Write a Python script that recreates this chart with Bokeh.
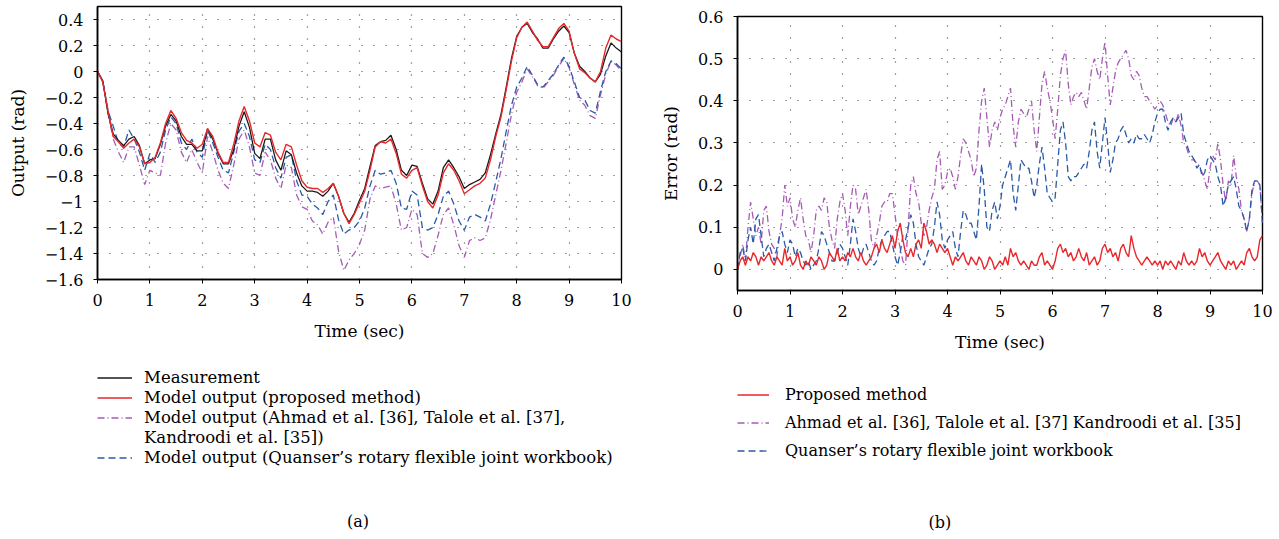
from bokeh.plotting import figure
from bokeh.layouts import row, column
from bokeh.models import Legend, LegendItem, Label, FixedTicker, ColumnDataSource, Range1d
from bokeh.embed import file_html
from bokeh.resources import INLINE

# ---------------- data ----------------
# panel (a): outputs, sampled every 0.1 s
time_a = [round(i * 0.1, 1) for i in range(101)]
measurement = [
    0.00, -0.07, -0.32, -0.48, -0.53, -0.57, -0.52, -0.50, -0.57, -0.71,
    -0.68, -0.67, -0.56, -0.42, -0.33, -0.38, -0.50, -0.56, -0.56, -0.61,
    -0.61, -0.44, -0.52, -0.63, -0.71, -0.71, -0.60, -0.42, -0.31, -0.43,
    -0.63, -0.67, -0.52, -0.52, -0.68, -0.76, -0.61, -0.64, -0.78, -0.88,
    -0.92, -0.92, -0.93, -0.96, -0.92, -0.86, -0.96, -1.09, -1.16, -1.09,
    -0.99, -0.90, -0.73, -0.57, -0.54, -0.53, -0.49, -0.60, -0.76, -0.80,
    -0.72, -0.73, -0.86, -0.98, -1.02, -0.92, -0.74, -0.68, -0.74, -0.81,
    -0.90, -0.87, -0.85, -0.83, -0.78, -0.64, -0.48, -0.33, -0.12, 0.10,
    0.27, 0.34, 0.37, 0.30, 0.25, 0.18, 0.18, 0.25, 0.31, 0.35,
    0.30, 0.14, 0.04, 0.00, -0.05, -0.08, -0.02, 0.12, 0.22, 0.18,
    0.15]
model_proposed = [
    0.00, -0.08, -0.30, -0.50, -0.54, -0.59, -0.55, -0.52, -0.58, -0.71,
    -0.70, -0.66, -0.55, -0.40, -0.30, -0.36, -0.47, -0.53, -0.55, -0.59,
    -0.56, -0.44, -0.50, -0.62, -0.70, -0.70, -0.56, -0.38, -0.27, -0.38,
    -0.55, -0.58, -0.47, -0.49, -0.62, -0.68, -0.56, -0.58, -0.72, -0.84,
    -0.89, -0.90, -0.90, -0.93, -0.90, -0.86, -0.96, -1.09, -1.17, -1.10,
    -1.01, -0.92, -0.76, -0.58, -0.54, -0.55, -0.52, -0.63, -0.79, -0.82,
    -0.76, -0.74, -0.88, -1.00, -1.05, -0.95, -0.78, -0.71, -0.76, -0.84,
    -0.94, -0.91, -0.88, -0.86, -0.82, -0.68, -0.50, -0.35, -0.14, 0.08,
    0.26, 0.34, 0.38, 0.31, 0.24, 0.19, 0.19, 0.26, 0.33, 0.37,
    0.31, 0.14, 0.02, -0.01, -0.05, -0.08, 0.00, 0.18, 0.28, 0.25,
    0.23]
model_ahmad = [
    0.00, -0.08, -0.32, -0.52, -0.62, -0.70, -0.58, -0.58, -0.72, -0.87,
    -0.76, -0.78, -0.80, -0.55, -0.40, -0.45, -0.62, -0.70, -0.60, -0.70,
    -0.78, -0.50, -0.62, -0.76, -0.86, -0.90, -0.72, -0.52, -0.45, -0.58,
    -0.78, -0.80, -0.62, -0.68, -0.82, -0.90, -0.72, -0.74, -0.95, -1.04,
    -1.06, -1.15, -1.18, -1.25, -1.16, -1.12, -1.38, -1.53, -1.45, -1.40,
    -1.33, -1.22, -0.98, -0.88, -0.90, -0.89, -0.88, -1.02, -1.22, -1.20,
    -1.06, -1.10, -1.40, -1.43, -1.40, -1.26, -1.10, -1.05, -1.18, -1.34,
    -1.43, -1.30, -1.28, -1.30, -1.28, -1.14, -0.95, -0.76, -0.55, -0.33,
    -0.16, -0.08, 0.02, -0.04, -0.11, -0.13, -0.08, -0.03, 0.04, 0.10,
    0.03, -0.10, -0.22, -0.26, -0.34, -0.36, -0.18, -0.02, 0.08, 0.05,
    0.00]
model_quanser = [
    0.00, -0.07, -0.30, -0.42, -0.55, -0.58, -0.45, -0.52, -0.62, -0.76,
    -0.63, -0.70, -0.62, -0.45, -0.35, -0.40, -0.55, -0.60, -0.52, -0.62,
    -0.66, -0.45, -0.55, -0.66, -0.76, -0.78, -0.62, -0.46, -0.40, -0.50,
    -0.68, -0.70, -0.56, -0.60, -0.74, -0.82, -0.66, -0.64, -0.84, -0.95,
    -0.96, -1.02, -1.05, -1.10, -1.00, -0.95, -1.14, -1.25, -1.22, -1.20,
    -1.15, -1.05, -0.88, -0.76, -0.79, -0.78, -0.76, -0.86, -1.05, -1.06,
    -0.92, -0.95, -1.20, -1.22, -1.20, -1.10, -0.96, -0.92, -1.02, -1.15,
    -1.22, -1.12, -1.10, -1.12, -1.15, -1.02, -0.85, -0.67, -0.46, -0.26,
    -0.12, -0.05, 0.04, -0.03, -0.10, -0.12, -0.07, -0.02, 0.05, 0.11,
    0.04, -0.08, -0.20, -0.22, -0.30, -0.32, -0.15, 0.00, 0.08, 0.06,
    0.02]

# panel (b): errors, sampled every 0.05 s
time_b = [round(i * 0.05, 2) for i in range(201)]
err_proposed = [
    0.00, 0.02, 0.03, 0.01, 0.03, 0.02, 0.04, 0.03, 0.01, 0.03, 0.02, 0.03, 0.04, 0.02, 0.01, 0.03, 0.02, 0.01, 0.05, 0.02,
    0.03, 0.01, 0.02, 0.04, 0.01, 0.00, 0.02, 0.01, 0.03, 0.02, 0.01, 0.03, 0.02, 0.00, 0.01, 0.04, 0.03, 0.02, 0.05, 0.02,
    0.03, 0.02, 0.04, 0.03, 0.05, 0.03, 0.02, 0.04, 0.02, 0.01, 0.02, 0.03, 0.05, 0.06, 0.04, 0.07, 0.05, 0.04, 0.06, 0.08,
    0.05, 0.09, 0.11, 0.07, 0.04, 0.03, 0.05, 0.03, 0.06, 0.07, 0.05, 0.11, 0.09, 0.06, 0.07, 0.06, 0.04, 0.06, 0.05, 0.04,
    0.05, 0.03, 0.01, 0.03, 0.02, 0.03, 0.04, 0.02, 0.01, 0.03, 0.02, 0.01, 0.03, 0.02, 0.00, 0.01, 0.03, 0.02, 0.00, 0.01,
    0.02, 0.01, 0.03, 0.01, 0.05, 0.03, 0.04, 0.02, 0.01, 0.02, 0.01, 0.00, 0.02, 0.01, 0.01, 0.03, 0.04, 0.01, 0.02, 0.01,
    0.00, 0.02, 0.05, 0.06, 0.04, 0.05, 0.03, 0.04, 0.02, 0.03, 0.05, 0.03, 0.02, 0.04, 0.01, 0.02, 0.03, 0.01, 0.02, 0.05,
    0.06, 0.04, 0.05, 0.03, 0.04, 0.02, 0.05, 0.06, 0.04, 0.03, 0.08, 0.05, 0.03, 0.02, 0.01, 0.02, 0.03, 0.02, 0.01, 0.02,
    0.01, 0.02, 0.00, 0.02, 0.01, 0.02, 0.01, 0.00, 0.02, 0.01, 0.04, 0.02, 0.01, 0.02, 0.01, 0.02, 0.05, 0.03, 0.04, 0.02,
    0.01, 0.02, 0.03, 0.04, 0.02, 0.01, 0.00, 0.02, 0.01, 0.02, 0.00, 0.01, 0.02, 0.01, 0.04, 0.05, 0.03, 0.02, 0.03, 0.07,
    0.08]
err_ahmad = [
    0.00, 0.03, 0.06, 0.02, 0.10, 0.16, 0.12, 0.08, 0.10, 0.06, 0.14, 0.15, 0.09, 0.06, 0.05, 0.03, 0.08, 0.12, 0.20, 0.15,
    0.17, 0.12, 0.10, 0.14, 0.17, 0.12, 0.08, 0.07, 0.04, 0.08, 0.14, 0.15, 0.14, 0.17, 0.16, 0.10, 0.07, 0.05, 0.12, 0.16,
    0.18, 0.14, 0.08, 0.15, 0.20, 0.19, 0.13, 0.15, 0.17, 0.19, 0.14, 0.07, 0.05, 0.08, 0.11, 0.15, 0.16, 0.16, 0.18, 0.18,
    0.13, 0.08, 0.05, 0.02, 0.01, 0.10, 0.20, 0.22, 0.18, 0.16, 0.11, 0.08, 0.10, 0.14, 0.17, 0.19, 0.26, 0.28, 0.19, 0.20,
    0.23, 0.24, 0.22, 0.19, 0.22, 0.27, 0.31, 0.30, 0.28, 0.26, 0.22, 0.24, 0.33, 0.40, 0.43, 0.36, 0.29, 0.33, 0.35, 0.33,
    0.36, 0.38, 0.39, 0.41, 0.43, 0.34, 0.29, 0.35, 0.38, 0.37, 0.36, 0.38, 0.40, 0.33, 0.28, 0.36, 0.44, 0.47, 0.43, 0.40,
    0.36, 0.31, 0.38, 0.46, 0.50, 0.52, 0.44, 0.39, 0.41, 0.42, 0.41, 0.42, 0.40, 0.38, 0.43, 0.48, 0.50, 0.47, 0.45, 0.50,
    0.54, 0.46, 0.39, 0.43, 0.47, 0.49, 0.50, 0.51, 0.52, 0.50, 0.46, 0.45, 0.47, 0.46, 0.43, 0.41, 0.41, 0.40, 0.39, 0.38,
    0.39, 0.40, 0.39, 0.37, 0.35, 0.34, 0.36, 0.35, 0.37, 0.34, 0.30, 0.29, 0.27, 0.26, 0.26, 0.25, 0.24, 0.23, 0.21, 0.19,
    0.24, 0.27, 0.26, 0.30, 0.26, 0.20, 0.16, 0.21, 0.20, 0.27, 0.22, 0.19, 0.14, 0.12, 0.09, 0.12, 0.18, 0.21, 0.21, 0.20,
    0.11]
err_quanser = [
    0.00, 0.04, 0.05, 0.02, 0.07, 0.10, 0.06, 0.12, 0.13, 0.08, 0.03, 0.05, 0.06, 0.04, 0.02, 0.05, 0.08, 0.09, 0.06, 0.04,
    0.07, 0.06, 0.03, 0.05, 0.04, 0.02, 0.01, 0.02, 0.00, 0.01, 0.02, 0.05, 0.09, 0.08, 0.06, 0.04, 0.02, 0.02, 0.04, 0.06,
    0.05, 0.03, 0.01, 0.06, 0.12, 0.09, 0.05, 0.03, 0.05, 0.06, 0.04, 0.02, 0.01, 0.02, 0.05, 0.07, 0.08, 0.09, 0.09, 0.06,
    0.03, 0.01, 0.04, 0.08, 0.07, 0.10, 0.13, 0.11, 0.06, 0.03, 0.02, 0.01, 0.03, 0.05, 0.06, 0.10, 0.16, 0.13, 0.07, 0.05,
    0.07, 0.08, 0.09, 0.05, 0.03, 0.09, 0.14, 0.13, 0.11, 0.11, 0.09, 0.07, 0.15, 0.25, 0.19, 0.10, 0.09, 0.14, 0.16, 0.12,
    0.15, 0.20, 0.22, 0.24, 0.26, 0.18, 0.14, 0.20, 0.26, 0.25, 0.24, 0.24, 0.21, 0.17, 0.20, 0.25, 0.29, 0.24, 0.18, 0.17,
    0.16, 0.17, 0.25, 0.33, 0.35, 0.30, 0.22, 0.21, 0.22, 0.22, 0.23, 0.24, 0.25, 0.24, 0.28, 0.33, 0.35, 0.28, 0.24, 0.30,
    0.36, 0.30, 0.23, 0.26, 0.30, 0.31, 0.33, 0.34, 0.32, 0.30, 0.31, 0.30, 0.32, 0.31, 0.31, 0.32, 0.31, 0.30, 0.32, 0.35,
    0.37, 0.38, 0.38, 0.35, 0.33, 0.35, 0.36, 0.35, 0.36, 0.37, 0.32, 0.30, 0.28, 0.27, 0.26, 0.24, 0.25, 0.22, 0.23, 0.26,
    0.27, 0.26, 0.25, 0.22, 0.20, 0.15, 0.17, 0.20, 0.21, 0.22, 0.19, 0.15, 0.14, 0.12, 0.09, 0.12, 0.19, 0.21, 0.21, 0.20,
    0.11]

x_ticks = [0, 1, 2, 3, 4, 5, 6, 7, 8, 9, 10]
x_labels = ["0", "1", "2", "3", "4", "5", "6", "7", "8", "9", "10"]
y_ticks_a = [-1.6, -1.4, -1.2, -1.0, -0.8, -0.6, -0.4, -0.2, 0.0, 0.2, 0.4]
y_labels_a = ["\u22121.6", "\u22121.4", "\u22121.2", "\u22121", "\u22120.8", "\u22120.6",
              "\u22120.4", "\u22120.2", "0", "0.2", "0.4"]
y_ticks_b = [0.0, 0.1, 0.2, 0.3, 0.4, 0.5, 0.6]
y_labels_b = ["0", "0.1", "0.2", "0.3", "0.4", "0.5", "0.6"]

legend_a = ["Measurement", "Model output (proposed method)",
            "Model output (Ahmad et al. [36], Talole et al. [37],",
            "Kandroodi et al. [35])",
            "Model output (Quanser\u2019s rotary flexible joint workbook)"]
legend_b = ["Proposed method",
            "Ahmad et al. [36], Talole et al. [37] Kandroodi et al. [35]",
            "Quanser\u2019s rotary flexible joint workbook"]
caption_a = "(a)"
caption_b = "(b)"

# ---------------- style ----------------
FONT = "DejaVu Serif"
BLACK = "#1a1a1a"
RED = "#e8282c"
PURPLE = "#a65cb4"
BLUE = "#2b5aa8"
DASH_PURPLE = "7 3 1 3"
DASH_BLUE = "7 4"
NAN = float("nan")


def style(p, yticks, ylabels, ylabel):
    p.xaxis.ticker = FixedTicker(ticks=x_ticks)
    p.yaxis.ticker = FixedTicker(ticks=yticks)
    p.xaxis.major_label_overrides = {t: l for t, l in zip(x_ticks, x_labels)}
    p.yaxis.major_label_overrides = {t: l for t, l in zip(yticks, ylabels)}
    p.xgrid.ticker = FixedTicker(ticks=x_ticks)
    p.ygrid.ticker = FixedTicker(ticks=yticks)
    p.grid.grid_line_color = "#444444"
    p.grid.grid_line_dash = "1 11"
    p.grid.grid_line_width = 1.2
    p.axis.axis_line_color = "black"
    p.axis.axis_line_width = 1.6
    p.axis.major_tick_in = 0
    p.axis.major_tick_out = 4
    p.axis.major_tick_line_color = "black"
    p.axis.minor_tick_line_color = None
    p.axis.major_label_text_font = FONT
    p.axis.major_label_text_font_size = "16px"
    p.axis.major_label_text_color = "black"
    p.axis.major_label_standoff = 10
    p.axis.axis_label_text_font = FONT
    p.axis.axis_label_text_font_size = "17px"
    p.axis.axis_label_text_font_style = "normal"
    p.axis.axis_label_text_color = "black"
    p.xaxis.axis_label = "Time (sec)"
    p.yaxis.axis_label = ylabel
    p.xaxis.axis_label_standoff = 12
    p.yaxis.axis_label_standoff = 14
    p.outline_line_color = "black"
    p.outline_line_width = 1.4
    p.background_fill_color = "white"
    p.border_fill_color = "white"


def legend_panel(width, height, top):
    # blank canvas that carries the legend and the caption
    q = figure(width=width, height=height, min_border_left=97, min_border_right=0,
               min_border_top=top, min_border_bottom=0,
               x_range=Range1d(0, width - 97), y_range=Range1d(0, height - top),
               x_axis_type=None, y_axis_type=None, output_backend="svg", toolbar_location=None)
    q.grid.visible = False
    q.outline_line_color = None
    q.background_fill_color = "white"
    q.border_fill_color = "white"
    return q


def proxy(q, **kw):
    # a legend-only line: undefined points, so nothing is drawn in the canvas
    return q.line(x=[NAN, NAN], y=[NAN, NAN], **kw)


def make_legend(items, padding, glyph_width, label_standoff, spacing, size, label_width):
    return Legend(items=items, location="top_left", orientation="vertical", margin=0, padding=padding,
                  border_line_color=None, background_fill_alpha=0,
                  glyph_width=glyph_width, glyph_height=19, label_height=19, label_width=label_width,
                  label_standoff=label_standoff, spacing=spacing,
                  label_text_font=FONT, label_text_font_size=size, label_text_color="black")


# ---------------- panel (a) ----------------
pa = figure(frame_width=524, frame_height=273, min_border_left=97, min_border_right=19,
            min_border_top=6, min_border_bottom=71, x_range=(0, 10), y_range=(-1.6, 0.5),
            output_backend="svg", toolbar_location=None)
style(pa, y_ticks_a, y_labels_a, "Output (rad)")

src_a = ColumnDataSource(dict(t=time_a, meas=measurement, prop=model_proposed,
                              ahmad=model_ahmad, quanser=model_quanser))
pa.line("t", "ahmad", source=src_a, line_color=PURPLE, line_width=1.3, line_dash=DASH_PURPLE)
pa.line("t", "quanser", source=src_a, line_color=BLUE, line_width=1.3, line_dash=DASH_BLUE)
pa.line("t", "meas", source=src_a, line_color=BLACK, line_width=1.3)
pa.line("t", "prop", source=src_a, line_color=RED, line_width=1.4)

la = legend_panel(640, 189, 18)
ka_mea = proxy(la, line_color=BLACK, line_width=1.3)
ka_pro = proxy(la, line_color=RED, line_width=1.4)
ka_ahm = proxy(la, line_color=PURPLE, line_width=1.3, line_dash=DASH_PURPLE)
ka_blank = proxy(la, line_color="white", line_alpha=0)
ka_qua = proxy(la, line_color=BLUE, line_width=1.3, line_dash=DASH_BLUE)
la.add_layout(make_legend([LegendItem(label=legend_a[0], renderers=[ka_mea]),
                           LegendItem(label=legend_a[1], renderers=[ka_pro]),
                           LegendItem(label=legend_a[2], renderers=[ka_ahm]),
                           LegendItem(label=legend_a[3], renderers=[ka_blank]),
                           LegendItem(label=legend_a[4], renderers=[ka_qua])],
                          1, 35, 12, 1, "16.5px", 490))
la.add_layout(Label(x=270, y=18, text=caption_a, text_align="center", text_baseline="middle",
                    text_font=FONT, text_font_size="16px", text_color="black"))

# ---------------- panel (b) ----------------
pb = figure(frame_width=525, frame_height=274, min_border_left=97, min_border_right=17,
            min_border_top=16, min_border_bottom=70, x_range=(0, 10), y_range=(-0.05, 0.6),
            output_backend="svg", toolbar_location=None)
style(pb, y_ticks_b, y_labels_b, "Error (rad)")

src_b = ColumnDataSource(dict(t=time_b, prop=err_proposed, ahmad=err_ahmad, quanser=err_quanser))
pb.line("t", "ahmad", source=src_b, line_color=PURPLE, line_width=1.3, line_dash=DASH_PURPLE)
pb.line("t", "quanser", source=src_b, line_color=BLUE, line_width=1.3, line_dash=DASH_BLUE)
pb.line("t", "prop", source=src_b, line_color=RED, line_width=1.4)

lb = legend_panel(639, 179, 25)
kb_pro = proxy(lb, line_color=RED, line_width=1.4)
kb_ahm = proxy(lb, line_color=PURPLE, line_width=1.3, line_dash=DASH_PURPLE)
kb_qua = proxy(lb, line_color=BLUE, line_width=1.3, line_dash=DASH_BLUE)
lb.add_layout(make_legend([LegendItem(label=legend_b[0], renderers=[kb_pro]),
                           LegendItem(label=legend_b[1], renderers=[kb_ahm]),
                           LegendItem(label=legend_b[2], renderers=[kb_qua])],
                          3, 32, 16, 9, "16px", 480))
lb.add_layout(Label(x=209, y=17, text=caption_b, text_align="center", text_baseline="middle",
                    text_font=FONT, text_font_size="16px", text_color="black"))

layout = row(column(pa, la), column(pb, lb))
open("out.html", "w").write(file_html(layout, INLINE))
